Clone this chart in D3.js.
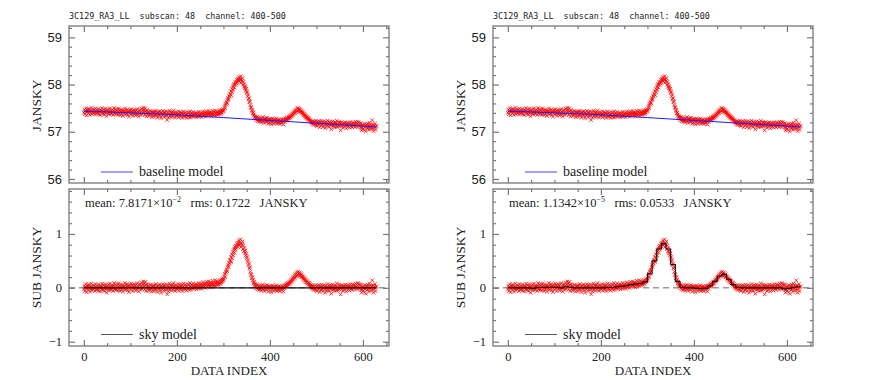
<!DOCTYPE html>
<html>
<head>
<meta charset="utf-8">
<script src="https://cdn.jsdelivr.net/npm/d3@7"></script>
<style>
  body { margin: 0; background: #fff; }
  text { white-space: pre; }
</style>
</head>
<body>
<div id="chart"></div>
<script>
  /**************************
  *   BASELINE / SKY PLOTS  *
  **************************/

var titleText = "3C129_RA3_LL  subscan: 48  channel: 400-500";

// baseline model, read every 50 samples (Jy)
var baseIdx = [0, 50, 100, 150, 200, 250, 300, 350, 400, 450, 500, 550, 600, 629];
var baseJy = [57.43, 57.42, 57.40, 57.38, 57.36, 57.33, 57.30, 57.27, 57.24, 57.21, 57.18, 57.15, 57.12, 57.10];

// data minus baseline, in 1/100 Jy, one value per data index (0..629)
var subJy = [
  -3, 4, -6, 2, 7, -1, -8, 3, 0, 5,
  -4, 6, 1, -7, 3, -2, 8, -5, 2, -1,
  5, -3, 0, 4, -6, 7, -2, 1, -4, 3,
  -1, 6, -5, 2, 0, -7, 4, 3, -3, 8,
  2, -4, 5, -1, -6, 3, 7, -2, 1, -9,
  4, 0, -3, 6, -5, 2, 8, -1, -4, 3,
  -2, 5, 1, -6, 4, 9, -3, 0, 6, -4,
  3, -1, 7, -5, 2, 8, -2, 4, -6, 1,
  6, -3, 0, 5, -7, 2, 4, -1, 9, -4,
  1, 5, -2, 7, -5, 3, 0, -8, 4, 6,
  -3, 2, 8, -1, 5, -6, 3, 0, 7, -2,
  4, -5, 1, 6, -3, 9, -1, 2, -7, 5,
  0, 7, -4, 3, 10, -2, 6, 1, 12, 4,
  8, -3, 11, 5, -6, 2, 7, -1, 3, -5,
  1, -4, 6, -2, 0, 5, -7, 3, -1, 4,
  -6, 2, 5, -3, 0, 7, -4, 1, -8, 3,
  5, -2, 0, 6, -5, 2, -9, 4, 1, -3,
  7, -1, 3, -6, 2, 5, -4, 0, 6, -12,
  -2, 4, -7, 1, 8, -3, 5, 0, -5, 3,
  6, -4, 2, 9, -1, 3, -6, 5, 0, -2,
  4, -3, 1, 7, -5, 2, 0, 6, -4, 3,
  -1, 5, -6, 2, 8, -2, 4, 0, -3, 6,
  1, -5, 3, 7, -2, 0, 5, -4, 9, 2,
  -3, 6, 1, -1, 4, 8, -2, 3, 0, 5,
  2, 7, -3, 4, 1, 6, -1, 9, 3, 0,
  5, 2, 8, -2, 6, 3, 10, 1, 4, 7,
  3, 9, 0, 6, 11, 2, 7, 4, 12, 5,
  8, 3, 10, 6, 1, 9, 5, 13, 7, 4,
  10, 6, 14, 3, 9, 7, 12, 5, 11, 8,
  6, 13, 9, 15, 7, 11, 10, 16, 12, 14,
  18, 15, 22, 26, 20, 30, 28, 34, 31, 38,
  42, 39, 47, 45, 52, 50, 57, 48, 62, 55,
  66, 60, 70, 73, 65, 76, 71, 78, 74, 82,
  77, 84, 80, 88, 79, 85, 82, 90, 76, 83,
  80, 86, 72, 78, 68, 74, 65, 69, 60, 64,
  55, 58, 48, 52, 42, 45, 36, 38, 30, 26,
  24, 18, 20, 13, 15, 8, 11, 5, 7, 2,
  4, -1, 6, 0, -3, 5, 2, -4, 3, -2,
  1, -5, 4, 0, -2, 6, -3, 2, -6, 3,
  -1, 4, -4, 1, 5, -2, 0, -7, 3, 2,
  -5, 0, 3, -8, 1, -3, 4, -1, -6, 2,
  0, -4, 3, -2, 5, -6, 1, -3, 2, -5,
  3, -1, -6, 2, 0, -4, 4, -2, 1, -7,
  2, 5, -1, 3, 6, 2, 8, 4, 3, 9,
  6, 10, 7, 12, 9, 14, 11, 16, 13, 18,
  15, 20, 17, 23, 19, 25, 21, 27, 23, 29,
  24, 30, 26, 28, 22, 27, 24, 21, 25, 20,
  22, 17, 20, 15, 18, 13, 16, 11, 14, 10,
  12, 8, 10, 6, 9, 4, 7, 2, 5, 0,
  3, -2, 4, 0, -4, 2, 3, -2, 5, -4,
  2, -6, 4, 0, -3, 5, -1, -8, 3, 1,
  -4, 6, -2, 3, -7, 0, 5, -3, 2, -9,
  4, -1, -5, 2, 7, -3, 0, -6, 3, 5,
  -2, 1, -11, 4, -4, 6, 0, -3, 2, -6,
  5, -1, 3, -5, 8, 0, -4, 2, -2, 6,
  -3, 4, -12, 1, 5, -2, 3, -6, 0, 4,
  -4, 2, 6, -1, -7, 3, 0, 5, -3, 1,
  4, -5, 2, 7, -2, 0, 3, -4, 6, 1,
  -1, 5, 3, -3, 8, 2, 6, -2, 4, 9,
  3, 7, -1, 5, 0, -4, 6, -9, 2, -3,
  -6, 1, 4, -8, -2, 5, -11, 0, 3, -4,
  6, -3, 2, -7, 8, -1, 4, -5, 0, 3,
  14, -4, 5, -9, 2, -2, 7, -6, 1, 3
];

// sky model steps, one per 10 samples (1/100 Jy)
var skyStep = 10;
var skyModel = [
  0, 0, 0, 0, 0, -1, 1, 1, 1, 1,
  1, 0, 2, 1, 0, 0, 0, 0, 0, 0,
  0, 1, 1, 2, 3, 4, 6, 7, 8, 11,
  26, 50, 72, 82, 72, 43, 12, 1, 0, 0,
  -1, -1, -1, 4, 12, 22, 25, 16, 6, 1,
  0, 0, 0, 0, 0, 0, 0, 0, 0, -2,
  -1, 1, 2
];

var xTicks = [0, 200, 400, 600];
var yTopTicks = [56, 57, 58, 59];
var ySubTicks = [-1, 0, 1];

var panels = [
  { x0: 69,  mean: "7.8171", exp: "\u22122", rms: "0.1722", stepSky: false },
  { x0: 493, mean: "1.1342", exp: "\u22125", rms: "0.0533", stepSky: true }
];

/****** LAYOUT ******/
var W = 872, H = 380;
var plotW = 320;
var topBox = {y0: 26, y1: 183};
var subBox = {y0: 189, y1: 346};
var frameColor = "#777";
var serif = "'Liberation Serif', 'DejaVu Serif', serif";
var sans = "'Liberation Sans', Arial, sans-serif";

var svg = d3.select("#chart")
  .append("svg")
  .attr("width", W)
  .attr("height", H);

var baseScale = d3.scaleLinear().domain(baseIdx).range(baseJy);
var idx = d3.range(subJy.length);
var lastIdx = subJy.length - 1;

function crossPath(d) { return "M-1.8,-1.8L1.8,1.8M-1.8,1.8L1.8,-1.8"; }

function drawFrame(g, x, y, box, majorsX, minorsX, majorsY, minorsY, showX) {
  var x0 = x.range()[0], x1 = x.range()[1];

  g.append("rect")
    .attr("x", x0).attr("y", box.y0)
    .attr("width", x1 - x0).attr("height", box.y1 - box.y0)
    .attr("fill", "none")
    .attr("stroke", frameColor)
    .attr("stroke-width", 1.3);

  var axes = [
    [d3.axisBottom(x), "translate(0," + box.y1 + ")", majorsX, minorsX, showX, false],
    [d3.axisTop(x), "translate(0," + box.y0 + ")", majorsX, minorsX, false, false],
    [d3.axisLeft(y), "translate(" + x0 + ",0)", majorsY, minorsY, true, true],
    [d3.axisRight(y), "translate(" + x1 + ",0)", majorsY, minorsY, false, true]
  ];

  axes.forEach(function(a) {
    var isY = a[5];
    var ga = g.append("g").attr("transform", a[1]);
    ga.call(a[0].tickValues(a[3]).tickSize(-3).tickFormat(""));
    var gm = g.append("g").attr("transform", a[1]);
    gm.call(a[0].tickValues(a[2]).tickSize(-6).tickPadding(isY ? 7 : 6)
      .tickFormat(a[4] ? d3.format("d") : ""));
    [ga, gm].forEach(function(s) {
      s.select(".domain").remove();
      s.selectAll(".tick line").attr("stroke", frameColor).attr("stroke-width", 1.2);
    });
  });
}

panels.forEach(function(p) {
  var x = d3.scaleLinear().domain([-32, 656]).range([p.x0, p.x0 + plotW]);
  var yTop = d3.scaleLinear().domain([55.915, 59.24]).range([topBox.y1, topBox.y0]);
  var ySub = d3.scaleLinear().domain([-1.08, 1.835]).range([subBox.y1, subBox.y0]);

  var minorX = d3.range(0, 656, 50).filter(function(v) { return v % 200 != 0; });
  var minorTop = d3.range(0, 17).map(function(k) { return 56 + k * 0.2; })
    .filter(function(v) { return v < 59.24 && Math.abs(v - Math.round(v)) > 0.01; });
  var minorSub = d3.range(-5, 10).map(function(k) { return k * 0.2; })
    .filter(function(v) { return v > -1.08 && v < 1.835 && Math.abs(v - Math.round(v)) > 0.01; });

  var g = svg.append("g");

  /****** TITLE ******/
  g.append("text")
    .attr("x", p.x0).attr("y", 19)
    .style("font-family", "'DejaVu Sans Mono', monospace")
    .style("font-size", "8.4px")
    .attr("fill", "#222")
    .text(titleText);

  /****** TOP PANEL: DATA + BASELINE ******/
  g.append("g").selectAll("path")
    .data(idx)
    .enter()
    .append("path")
      .attr("d", crossPath)
      .attr("transform", function(i) {
        return "translate(" + x(i) + "," + yTop(baseScale(i) + subJy[i] / 100) + ")";
      })
      .attr("fill", "none")
      .attr("stroke", "#ff0000")
      .attr("stroke-width", 0.75);

  var baseLine = d3.line()
    .x(function(d, i) { return x(baseIdx[i]); })
    .y(function(d) { return yTop(d); })
    .curve(d3.curveMonotoneX);

  g.append("path")
    .attr("d", baseLine(baseJy))
    .attr("fill", "none")
    .attr("stroke", "#1a1aff")
    .attr("stroke-width", 1);

  drawFrame(g, x, yTop, topBox, xTicks, minorX, yTopTicks, minorTop, false);
  g.selectAll(".tick text")
    .style("font-family", sans).style("font-size", "13px").attr("fill", "#222");

  // legend
  g.append("line")
    .attr("x1", p.x0 + 32).attr("x2", p.x0 + 64)
    .attr("y1", 172).attr("y2", 172)
    .attr("stroke", "#4444ff").attr("stroke-width", 1);
  g.append("text")
    .attr("x", p.x0 + 70).attr("y", 176)
    .style("font-family", serif).style("font-size", "14px")
    .attr("fill", "#222")
    .text("baseline model");

  g.append("text")
    .attr("transform", "translate(" + (p.x0 - 28) + "," + ((topBox.y0 + topBox.y1) / 2 + 1) + ") rotate(-90)")
    .attr("text-anchor", "middle")
    .style("font-family", serif).style("font-size", "13.5px")
    .attr("fill", "#222")
    .text("JANSKY");

  /****** BOTTOM PANEL: RESIDUAL + SKY MODEL ******/
  var gs = svg.append("g");

  gs.append("line")
    .attr("x1", x.range()[0]).attr("x2", x.range()[1])
    .attr("y1", ySub(0)).attr("y2", ySub(0))
    .attr("stroke", "#999").attr("stroke-width", 1.5)
    .attr("stroke-dasharray", "6,4");

  gs.append("g").selectAll("path")
    .data(idx)
    .enter()
    .append("path")
      .attr("d", crossPath)
      .attr("transform", function(i) {
        return "translate(" + x(i) + "," + ySub(subJy[i] / 100) + ")";
      })
      .attr("fill", "none")
      .attr("stroke", "#ff0000")
      .attr("stroke-width", 0.75);

  var skyPts;
  if (p.stepSky) {
    skyPts = skyModel.map(function(v, k) { return [k * skyStep, v / 100]; });
    skyPts.push([lastIdx, skyModel[skyModel.length - 1] / 100]);
  } else {
    skyPts = [[0, 0], [lastIdx, 0]];
  }
  var skyLine = d3.line()
    .x(function(d) { return x(d[0]); })
    .y(function(d) { return ySub(d[1]); })
    .curve(d3.curveStepAfter);

  gs.append("path")
    .attr("d", skyLine(skyPts))
    .attr("fill", "none")
    .attr("stroke", "#111")
    .attr("stroke-width", 1.1);

  drawFrame(gs, x, ySub, subBox, xTicks, minorX, ySubTicks, minorSub, true);
  gs.selectAll(".tick text")
    .style("font-family", serif).style("font-size", "12.5px").attr("fill", "#222");

  // stats line
  var st = gs.append("text")
    .attr("x", p.x0 + 16).attr("y", 207)
    .style("font-family", serif).style("font-size", "12.5px")
    .attr("fill", "#222");
  st.append("tspan").text("mean: " + p.mean + "\u00d710");
  st.append("tspan").attr("dy", -5).style("font-size", "8px").text(p.exp);
  st.append("tspan").attr("dy", 5).text("   rms: " + p.rms + "   JANSKY");

  // legend
  gs.append("line")
    .attr("x1", p.x0 + 32).attr("x2", p.x0 + 64)
    .attr("y1", 334.5).attr("y2", 334.5)
    .attr("stroke", "#555").attr("stroke-width", 1);
  gs.append("text")
    .attr("x", p.x0 + 70).attr("y", 338.5)
    .style("font-family", serif).style("font-size", "14px")
    .attr("fill", "#222")
    .text("sky model");

  gs.append("text")
    .attr("transform", "translate(" + (p.x0 - 28) + "," + ((subBox.y0 + subBox.y1) / 2) + ") rotate(-90)")
    .attr("text-anchor", "middle")
    .style("font-family", serif).style("font-size", "13.5px")
    .attr("fill", "#222")
    .text("SUB JANSKY");

  gs.append("text")
    .attr("x", p.x0 + plotW / 2).attr("y", 375)
    .attr("text-anchor", "middle")
    .style("font-family", serif).style("font-size", "13px")
    .attr("fill", "#222")
    .text("DATA INDEX");
});
</script>
</body>
</html>
